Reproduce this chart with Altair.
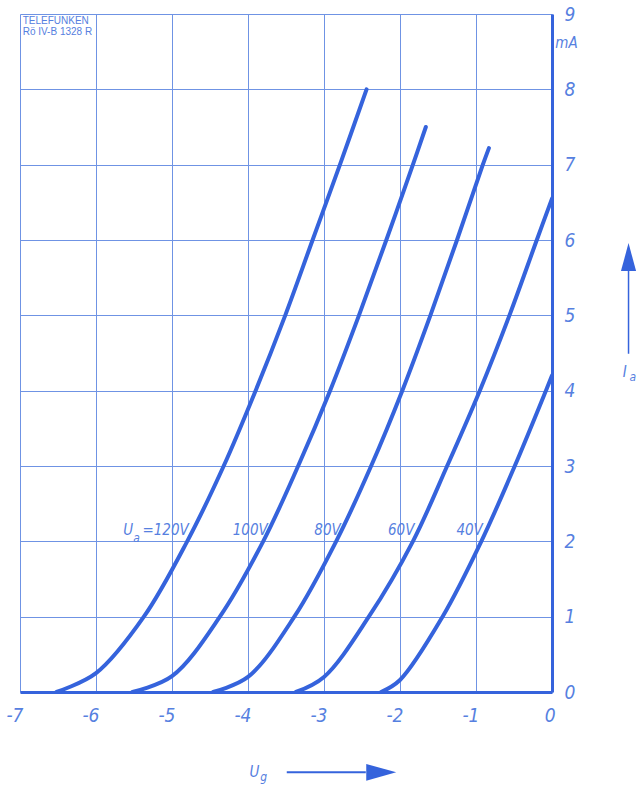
import altair as alt
import pandas as pd

# Anode current Ia (mA) versus grid voltage Ug (V) for several anode voltages
ug_120 = [-6.52, -6.0, -5.37, -4.80, -4.32, -3.90, -3.51, -3.15, -2.79, -2.44]
ia_120 = [0.0, 0.25, 1.0, 2.0, 3.0, 4.0, 5.0, 6.0, 7.0, 8.0]

ug_100 = [-5.52, -5.0, -4.37, -3.80, -3.34, -2.92, -2.54, -2.18, -1.83, -1.66]
ia_100 = [0.0, 0.21, 1.0, 2.0, 3.0, 4.0, 5.0, 6.0, 7.0, 7.5]

ug_80 = [-4.46, -4.0, -3.39, -2.84, -2.38, -1.97, -1.60, -1.25, -0.91, -0.83]
ia_80 = [0.0, 0.2, 1.0, 2.0, 3.0, 4.0, 5.0, 6.0, 7.0, 7.22]

ug_60 = [-3.37, -3.0, -2.41, -1.83, -1.38, -0.95, -0.56, -0.20, 0.0]
ia_60 = [0.0, 0.2, 1.0, 2.0, 3.0, 4.0, 5.0, 6.0, 6.55]

ug_40 = [-2.25, -2.0, -1.44, -0.93, -0.49, -0.08, 0.0]
ia_40 = [0.0, 0.16, 1.0, 2.0, 3.0, 4.0, 4.2]

x_ticks = [-7, -6, -5, -4, -3, -2, -1, 0]
y_ticks = [0, 1, 2, 3, 4, 5, 6, 7, 8, 9]

series = {"120V": (ug_120, ia_120), "100V": (ug_100, ia_100), "80V": (ug_80, ia_80),
          "60V": (ug_60, ia_60), "40V": (ug_40, ia_40)}
rows = []
for name, (xs_, ys_) in series.items():
    for i, (xv, yv) in enumerate(zip(xs_, ys_)):
        rows.append({"ua": name, "ug": xv, "ia": yv, "order": i})
df = pd.DataFrame(rows)

BLUE = "#3563dc"
GRID = "#6f93e4"
TEXT = "#5680e0"
FONT = "DejaVu Sans Condensed, sans-serif"

xs = alt.Scale(domain=[-7, 0], nice=False, zero=False)
ys = alt.Scale(domain=[0, 9], nice=False)

curves = alt.Chart(df).mark_line(
    color=BLUE, strokeWidth=4, interpolate="catmull-rom", strokeCap="round"
).encode(
    x=alt.X("ug:Q", scale=xs, axis=alt.Axis(
        values=x_ticks, grid=True, gridColor=GRID, gridWidth=1, ticks=False,
        domainColor=BLUE, domainWidth=3, labelFont=FONT, labelFontSize=19,
        labelFontStyle="italic", labelColor=TEXT, labelPadding=14,
        labelAlign="right", labelOffset=3,
        labelExpr="datum.value < 0 ? '-' + abs(datum.value) : '0'", title=None)),
    y=alt.Y("ia:Q", scale=ys, axis=alt.Axis(
        orient="right", values=y_ticks, format="d", grid=True, gridColor=GRID,
        gridWidth=1, ticks=False, domainColor=BLUE, domainWidth=3,
        labelFont=FONT, labelFontSize=19, labelFontStyle="italic",
        labelColor=TEXT, labelPadding=12, labelAlign="left", title=None)),
    detail="ua:N",
    order="order:Q",
)


def note(text, x, y, size=15, align="left", italic=True, font=FONT, color=TEXT):
    kw = dict(text=text, align=align, baseline="alphabetic", fontSize=size,
              font=font, color=color)
    if italic:
        kw["fontStyle"] = "italic"
    return alt.Chart().mark_text(**kw).encode(
        x=alt.datum(x, scale=xs), y=alt.datum(y, scale=ys))


labels = [
    note("U", -5.64, 2.08),
    note("a", -5.51, 1.99, size=12),
    note("=120V", -4.78, 2.08, align="right"),
    note("100V", -3.74, 2.08, align="right"),
    note("80V", -2.78, 2.08, align="right"),
    note("60V", -1.81, 2.08, align="right"),
    note("40V", -0.91, 2.08, align="right"),
    note("mA", 0.19, 8.55, size=15, align="center"),
    note("U", -3.98, -1.13, size=15),
    note("g", -3.84, -1.18, size=12),
    note("I", 0.93, 4.18, size=15),
    note("a", 1.02, 4.13, size=12),
    note("TELEFUNKEN", -6.965, 8.87, size=10, italic=False,
         font="Liberation Sans, sans-serif"),
    note("Rö IV-B 1328 R", -6.965, 8.725, size=10, italic=False,
         font="Liberation Sans, sans-serif"),
]

# Direction arrows for the two axis quantities
ug_shaft = alt.Chart().mark_rule(color=BLUE, strokeWidth=2).encode(
    x=alt.datum(-3.49, scale=xs), x2=alt.datum(-2.45),
    y=alt.datum(-1.066, scale=ys))
ug_head = alt.Chart().mark_point(
    shape="M-1,-0.56L1,0L-1,0.56Z", size=900, filled=True, opacity=1,
    color=BLUE).encode(x=alt.datum(-2.247, scale=xs), y=alt.datum(-1.066, scale=ys))
ia_shaft = alt.Chart().mark_rule(color=BLUE, strokeWidth=1.5).encode(
    x=alt.datum(1.007, scale=xs), y=alt.datum(4.49, scale=ys),
    y2=alt.datum(5.60))
ia_head = alt.Chart().mark_point(
    shape="M-0.54,1L0,-1L0.54,1Z", size=784, filled=True, opacity=1,
    color=BLUE).encode(x=alt.datum(1.007, scale=xs), y=alt.datum(5.773, scale=ys))

chart = alt.layer(curves, ug_shaft, ug_head, ia_shaft, ia_head, *labels).properties(
    width=532, height=678,
    autosize=alt.AutoSizeParams(type="none"),
    padding={"left": 20, "top": 14, "right": 87, "bottom": 99},
    background="white",
).configure_view(stroke=None)

chart.save("out.html", embed_options={"renderer": "svg", "actions": False})
